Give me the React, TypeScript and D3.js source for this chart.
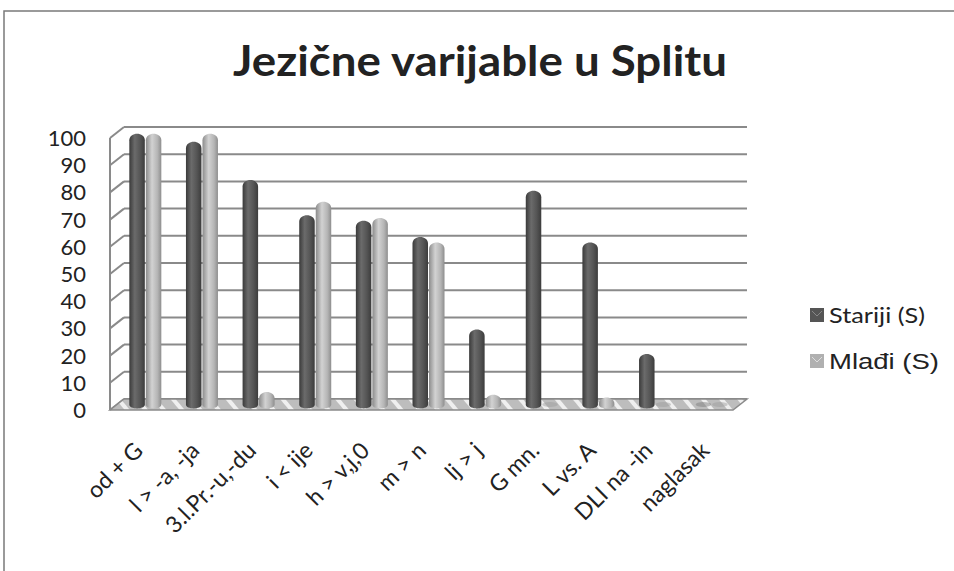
import React from "react";
import * as d3 from "d3";

const width = 954;
const height = 571;

const categories = ["od + G", "l > -a, -ja", "3.l.Pr.-u,-du", "i < ije", "h > v,j,0", "m > n", "lj > j", "G mn.", "L vs. A", "DLI na -in", "naglasak"];
const seriesNames = ["Stariji (S)", "Mlađi (S)"];
const stariji = [100, 97, 83, 70, 68, 62, 28, 79, 60, 19, 0];
const mladi = [100, 100, 5, 75, 69, 60, 4, 0, 3, 0, 0];
const yTicks = [0, 10, 20, 30, 40, 50, 60, 70, 80, 90, 100];

// 3d depth offset of the back wall
const DX = 14;
const DY = -11;

const x = d3.scaleBand<string>().domain(categories).range([110, 733]);
const yf = d3.scaleLinear().domain([0, 100]).range([410, 138]);
const xs = d3.scaleBand<number>().domain([0, 1]).range([-16.5, 16.5]);

const cylinder = (cx0: number, w: number, top: number, bottom: number) => {
  const rx = w / 2;
  const ry = 4;
  const p = d3.path();
  p.moveTo(cx0, bottom);
  p.lineTo(cx0, top + rx);
  // rounded cap
  p.bezierCurveTo(cx0, top - 1, cx0 + w, top - 1, cx0 + w, top + rx);
  p.lineTo(cx0 + w, bottom);
  p.bezierCurveTo(cx0 + w, bottom + ry * 1.3, cx0, bottom + ry * 1.3, cx0, bottom);
  p.closePath();
  return p.toString();
};

export default function App() {
  const series = [stariji, mladi];
  const font = "Lato, 'Open Sans', sans-serif";
  return (
    <svg width={width} height={height} style={{ position: "absolute", left: 0, top: 0, background: "#fff" }}>
      <defs>
        <linearGradient id="g0" x1="0" x2="1" y1="0" y2="0">
          <stop offset="0" stopColor="#3a3a3a" />
          <stop offset="0.35" stopColor="#6b6b6b" />
          <stop offset="0.7" stopColor="#555" />
          <stop offset="1" stopColor="#3c3c3c" />
        </linearGradient>
        <linearGradient id="g1" x1="0" x2="1" y1="0" y2="0">
          <stop offset="0" stopColor="#8c8c8c" />
          <stop offset="0.4" stopColor="#d2d2d2" />
          <stop offset="0.75" stopColor="#b5b5b5" />
          <stop offset="1" stopColor="#8e8e8e" />
        </linearGradient>
        <pattern id="hatch" width="14" height="14" patternUnits="userSpaceOnUse" patternTransform="rotate(-40)">
          <rect width="14" height="14" fill="#bdbdbd" />
          <rect width="4" height="14" fill="#efefef" />
        </pattern>
      </defs>

      {/* outer frame */}
      <path d="M4,571 L4,11 L954,11" fill="none" stroke="#7a7a7a" strokeWidth={1.5} />

      <text x={480} y={76} textAnchor="middle" fontFamily={font} fontWeight="bold" fontSize={42} textLength={494} lengthAdjust="spacingAndGlyphs" fill="#222">
        Jezične varijable u Splitu
      </text>

      {/* walls */}
      <g stroke="#8a8a8a" strokeWidth={2} fill="none">
        {yTicks.map(t => (
          <g key={t}>
            <line x1={110} y1={yf(t)} x2={110 + DX} y2={yf(t) + DY} />
            <line x1={110 + DX} y1={yf(t) + DY} x2={733 + DX} y2={yf(t) + DY} />
          </g>
        ))}
        <line x1={110} y1={yf(0)} x2={110} y2={yf(100)} />
      </g>

      {/* floor */}
      <polygon
        points={`110,${yf(0)} 733,${yf(0)} ${733 + DX},${yf(0) + DY} ${110 + DX},${yf(0) + DY}`}
        fill="url(#hatch)" stroke="#8a8a8a" strokeWidth={1.5}
      />

      {/* bars */}
      {categories.map((c, i) => (
        <g key={c}>
          {series.map((s, k) => {
            const bx = (x(c) as number) + x.bandwidth() / 2 + (xs(k) as number) + DX / 2 + 0.5;
            const w = xs.bandwidth() - 1;
            const bottom = yf(0) + DY / 2;
            const top = yf(s[i]) + DY / 2;
            if (s[i] === 0) {
              return <ellipse key={k} cx={bx + w / 2} cy={bottom} rx={w / 2} ry={2.5} fill={k === 0 ? "#777" : "#999"} opacity={0.45} />;
            }
            return <path key={k} d={cylinder(bx, w, top, bottom)} fill={`url(#g${k})`} />;
          })}
        </g>
      ))}

      {/* y labels */}
      {yTicks.map(t => (
        <text key={t} x={86} y={yf(t) + 8} textAnchor="end" fontFamily={font} fontSize={22} fill="#222">
          {t}
        </text>
      ))}

      {/* x labels */}
      {categories.map(c => {
        const lx = (x(c) as number) + x.bandwidth() / 2 + 6;
        const ly = 452;
        return (
          <text key={c} transform={`translate(${lx},${ly}) rotate(-45)`} textAnchor="end" fontFamily={font} fontSize={23} fill="#222">
            {c}
          </text>
        );
      })}

      {/* legend */}
      {seriesNames.map((n, k) => (
        <g key={n} transform={`translate(810,${308 + k * 46})`}>
          <rect width={14} height={14} fill={k === 0 ? "#555" : "#b0b0b0"} />
          <path d="M2,3 L7,8 L12,3" fill="none" stroke={k === 0 ? "#888" : "#ddd"} strokeWidth={1} />
          <text x={19} y={15} fontFamily={k === 0 ? font : "'Liberation Sans', Arial, sans-serif"} fontSize={22} textLength={k === 0 ? 96 : 110} lengthAdjust="spacingAndGlyphs" fill="#222">
            {n}
          </text>
        </g>
      ))}
    </svg>
  );
}
